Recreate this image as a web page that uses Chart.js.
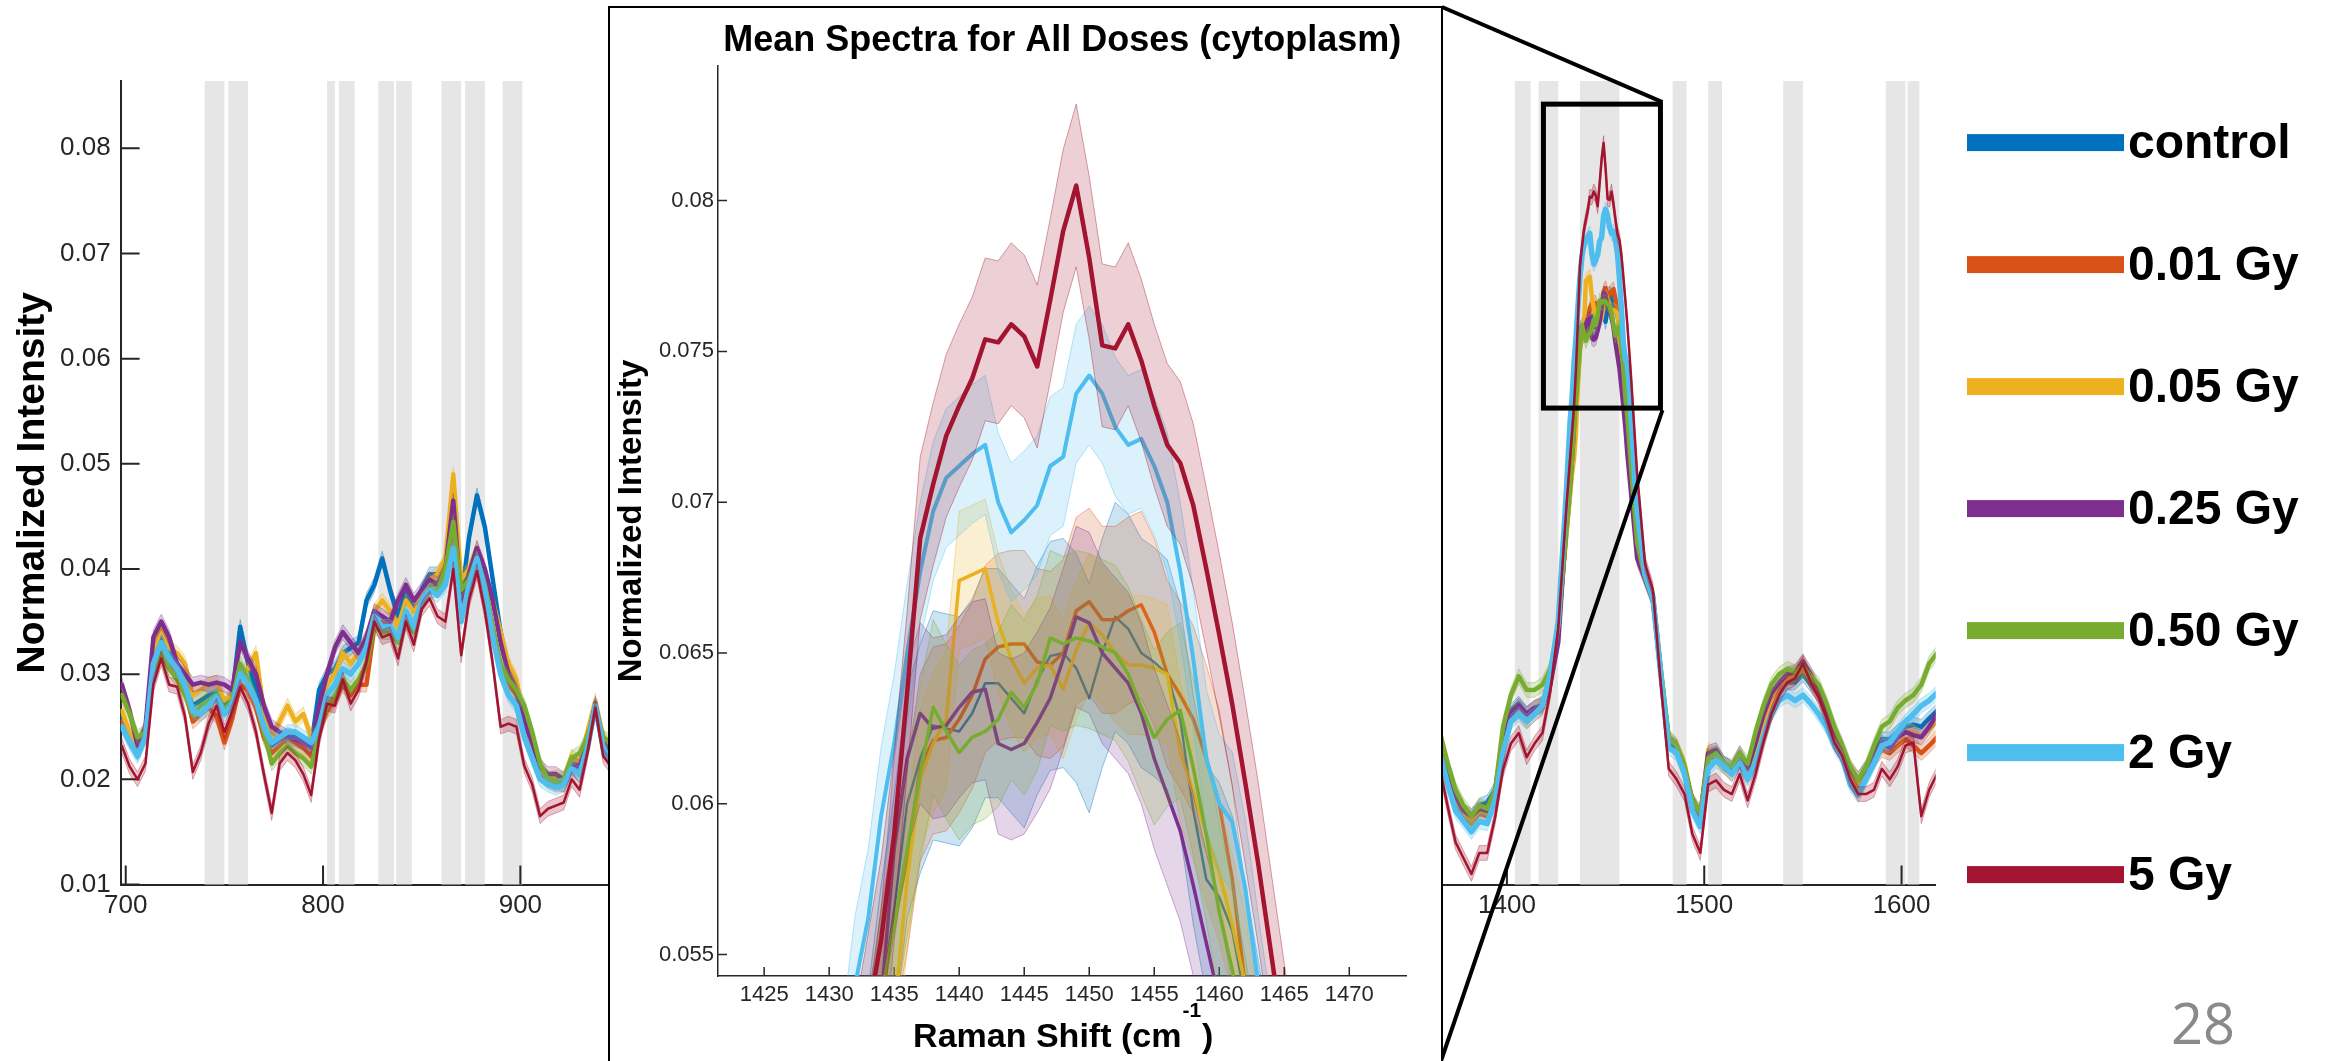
<!DOCTYPE html>
<html><head><meta charset="utf-8">
<script src="https://cdn.jsdelivr.net/npm/chart.js@4.4.1/dist/chart.umd.min.js"></script>
<style>
html,body{margin:0;padding:0;background:#fff;width:2329px;height:1061px;overflow:hidden;}
#main{position:absolute;left:0;top:0;width:2329px;height:1061px;}
#insetBox{position:absolute;left:608px;top:6px;width:831px;height:1070px;border:2px solid #000;background:#fff;}
#inset{position:absolute;left:0;top:0;width:831px;height:1060px;}
#page{position:absolute;left:2150px;top:994px;width:106px;text-align:center;font-family:'Open Sans',sans-serif;font-size:56px;line-height:56px;color:#8a8a8a;}
</style></head><body>
<canvas id="main" width="2329" height="1061"></canvas>
<div id="insetBox"><canvas id="inset" width="831" height="1060"></canvas></div>
<div id="page">28</div>
<script>
// ---------------- DATA ----------------
const seriesNames = ['control','0.01 Gy','0.05 Gy','0.25 Gy','0.50 Gy','2 Gy','5 Gy'];

// Raman shift grids (cm-1)
const leftShift = [698,702,706,710,714,718,722,726,730,734,738,742,746,750,754,758,762,766,770,774,778,782,786,790,794,798,802,806,810,814,818,822,826,830,834,838,842,846,850,854,858,862,866,870,874,878,882,886,890,894,898,902,906,910,914,918,922,926,930,934,938,942,946];
const gapShift = [1150];
const riseShift = [1366,1370,1374,1378,1382,1386,1390,1394,1398,1402,1406,1410,1414,1418,1422,1426];
const insetShift = [1430,1431,1432,1433,1434,1435,1436,1437,1438,1439,1440,1441,1442,1443,1444,1445,1446,1447,1448,1449,1450,1451,1452,1453,1454,1455,1456,1457,1458,1459,1460,1461,1462,1463,1464,1465,1466];
const fallShift = [1470,1474,1478,1482,1486,1490,1494,1498,1502,1506,1510,1514,1518,1522,1526,1530,1534,1538,1542,1546,1550,1554,1558,1562,1566,1570,1574,1578,1582,1586,1590,1594,1598,1602,1606,1610,1614,1618];

// Mean normalized intensity, 698-946 cm-1
const leftControl = [.0260,.0238,.0225,.0242,.0315,.0335,.0320,.0305,.0290,.0270,.0275,.0280,.0282,.0270,.0280,.0345,.0310,.0285,.0255,.0232,.0238,.0242,.0240,.0235,.0232,.0285,.0300,.0305,.0320,.0325,.0330,.0370,.0385,.0410,.0380,.0355,.0380,.0360,.0380,.0395,.0395,.0405,.0430,.0370,.0430,.0470,.0440,.0390,.0340,.0305,.0290,.0255,.0232,.0210,.0200,.0198,.0195,.0212,.0205,.0230,.0270,.0232,.0218];
const leftGy001 = [.0255,.0240,.0228,.0240,.0305,.0330,.0310,.0300,.0285,.0255,.0262,.0268,.0260,.0235,.0258,.0290,.0285,.0268,.0240,.0225,.0232,.0240,.0235,.0230,.0222,.0245,.0265,.0275,.0290,.0280,.0290,.0290,.0345,.0350,.0345,.0335,.0355,.0345,.0370,.0385,.0385,.0395,.0425,.0360,.0390,.0415,.0385,.0345,.0305,.0290,.0280,.0248,.0225,.0205,.0198,.0195,.0195,.0212,.0208,.0232,.0268,.0232,.0220];
const leftGy005 = [.0265,.0245,.0230,.0245,.0320,.0345,.0325,.0320,.0310,.0280,.0285,.0290,.0292,.0275,.0280,.0300,.0305,.0320,.0265,.0240,.0255,.0270,.0255,.0262,.0240,.0255,.0290,.0300,.0320,.0310,.0320,.0335,.0360,.0370,.0360,.0345,.0370,.0360,.0375,.0390,.0395,.0410,.0490,.0390,.0400,.0420,.0395,.0370,.0340,.0310,.0295,.0255,.0230,.0210,.0200,.0202,.0200,.0222,.0215,.0245,.0275,.0240,.0228];
const leftGy025 = [.0290,.0265,.0232,.0250,.0335,.0350,.0335,.0310,.0300,.0290,.0292,.0290,.0292,.0290,.0285,.0330,.0315,.0300,.0270,.0250,.0245,.0240,.0238,.0235,.0230,.0270,.0300,.0325,.0340,.0330,.0320,.0335,.0360,.0355,.0350,.0370,.0385,.0370,.0380,.0390,.0385,.0400,.0465,.0370,.0395,.0420,.0400,.0370,.0330,.0300,.0285,.0255,.0235,.0212,.0205,.0205,.0200,.0215,.0212,.0235,.0272,.0235,.0225];
const leftGy050 = [.0280,.0262,.0240,.0245,.0300,.0320,.0305,.0295,.0280,.0262,.0270,.0275,.0280,.0265,.0275,.0310,.0295,.0275,.0245,.0215,.0225,.0232,.0225,.0220,.0212,.0245,.0270,.0280,.0295,.0285,.0295,.0310,.0345,.0340,.0340,.0330,.0350,.0340,.0365,.0380,.0380,.0400,.0445,.0380,.0390,.0410,.0385,.0345,.0310,.0295,.0285,.0270,.0245,.0215,.0200,.0198,.0200,.0220,.0225,.0240,.0265,.0240,.0235];
const leftGy2 = [.0250,.0235,.0222,.0240,.0310,.0330,.0315,.0305,.0290,.0265,.0262,.0270,.0278,.0262,.0270,.0300,.0290,.0275,.0250,.0235,.0240,.0245,.0245,.0240,.0235,.0250,.0280,.0290,.0305,.0300,.0310,.0325,.0355,.0345,.0345,.0335,.0360,.0345,.0370,.0380,.0375,.0385,.0420,.0350,.0385,.0410,.0380,.0335,.0300,.0280,.0270,.0240,.0220,.0200,.0195,.0192,.0195,.0210,.0205,.0230,.0270,.0230,.0215];
const leftGy5 = [.0232,.0212,.0200,.0215,.0290,.0315,.0290,.0288,.0260,.0207,.0225,.0253,.0270,.0245,.0265,.0288,.0272,.0245,.0205,.0168,.0215,.0225,.0218,.0205,.0185,.0238,.0272,.0270,.0295,.0272,.0285,.0312,.0350,.0335,.0338,.0315,.0350,.0328,.0362,.0372,.0355,.0350,.0400,.0318,.0370,.0398,.0360,.0310,.0250,.0253,.0250,.0213,.0195,.0165,.0172,.0175,.0178,.0200,.0190,.0225,.0268,.0222,.0212];

// 1366-1426 cm-1
const riseControl = [.0232,.0205,.0182,.0170,.0162,.0175,.0178,.0190,.0238,.0265,.0272,.0262,.0268,.0272,.0298,.0345];
const riseGy001 = [.0240,.0205,.0180,.0165,.0158,.0168,.0165,.0182,.0230,.0258,.0265,.0255,.0262,.0268,.0295,.0342];
const riseGy005 = [.0232,.0210,.0182,.0168,.0160,.0170,.0168,.0185,.0235,.0262,.0268,.0258,.0268,.0272,.0298,.0345];
const riseGy025 = [.0230,.0205,.0185,.0170,.0165,.0172,.0170,.0185,.0232,.0262,.0270,.0262,.0268,.0270,.0290,.0330];
const riseGy050 = [.0245,.0215,.0190,.0175,.0165,.0175,.0172,.0190,.0250,.0280,.0298,.0285,.0285,.0290,.0305,.0345];
const riseGy2 = [.0225,.0195,.0170,.0160,.0150,.0160,.0158,.0180,.0225,.0255,.0262,.0255,.0262,.0270,.0300,.0350];
const riseGy5 = [.0210,.0174,.0140,.0125,.0110,.0130,.0130,.0164,.0209,.0234,.0244,.0221,.0234,.0244,.0284,.0343];

// 1430-1466 cm-1 (CH2 band, shown in the inset)
const insetControl = [.0432,.0452,.0475,.0500,.0535,.0565,.0600,.0615,.0626,.0625,.0624,.0630,.0640,.0640,.0635,.0630,.0641,.0649,.0650,.0645,.0635,.0650,.0662,.0658,.0650,.0647,.0643,.0628,.0598,.0575,.0569,.0558,.0535,.0510,.0485,.0460,.0438];
const insetGy001 = [.0435,.0455,.0475,.0500,.0535,.0560,.0582,.0612,.0621,.0622,.0628,.0636,.0648,.0652,.0653,.0653,.0647,.0646,.0650,.0664,.0667,.0661,.0661,.0664,.0666,.0657,.0643,.0636,.0628,.0615,.0600,.0575,.0540,.0510,.0485,.0460,.0438];
const insetGy005 = [.0430,.0450,.0470,.0490,.0505,.0530,.0575,.0608,.0620,.0628,.0674,.0676,.0678,.0660,.0648,.0640,.0645,.0646,.0638,.0651,.0660,.0656,.0650,.0646,.0646,.0645,.0643,.0617,.0604,.0590,.0577,.0560,.0540,.0510,.0485,.0460,.0438];
const insetGy025 = [.0440,.0460,.0480,.0505,.0535,.0585,.0615,.0630,.0625,.0626,.0632,.0637,.0638,.0620,.0618,.0620,.0627,.0635,.0648,.0662,.0660,.0650,.0645,.0640,.0630,.0615,.0603,.0591,.0573,.0554,.0535,.0510,.0490,.0470,.0450,.0430,.0410];
const insetGy050 = [.0435,.0455,.0478,.0505,.0535,.0560,.0585,.0610,.0632,.0624,.0617,.0622,.0624,.0628,.0637,.0632,.0640,.0655,.0653,.0655,.0654,.0652,.0650,.0643,.0632,.0622,.0628,.0631,.0612,.0590,.0564,.0545,.0520,.0495,.0470,.0448,.0425];
const insetGy2 = [.0470,.0505,.0540,.0562,.0596,.0620,.0650,.0677,.0697,.0708,.0712,.0716,.0719,.0700,.0690,.0694,.0699,.0712,.0715,.0736,.0742,.0736,.0725,.0719,.0721,.0712,.0700,.0677,.0648,.0615,.0600,.0594,.0572,.0540,.0510,.0480,.0455];
const insetGy5 = [.0455,.0480,.0505,.0530,.0555,.0590,.0637,.0688,.0706,.0722,.0732,.0741,.0754,.0753,.0759,.0755,.0745,.0767,.0790,.0805,.0781,.0752,.0751,.0759,.0747,.0732,.0719,.0713,.0699,.0678,.0656,.0633,.0607,.0580,.0550,.0520,.0490];

// 1470-1618 cm-1
const fallControl = [.0398,.0375,.0302,.0238,.0230,.0212,.0178,.0165,.0222,.0225,.0215,.0210,.0222,.0205,.0228,.0255,.0275,.0285,.0292,.0292,.0300,.0290,.0280,.0262,.0240,.0228,.0208,.0195,.0210,.0225,.0238,.0238,.0245,.0250,.0252,.0250,.0258,.0265];
const fallGy001 = [.0395,.0372,.0300,.0235,.0228,.0210,.0178,.0162,.0220,.0222,.0212,.0205,.0218,.0202,.0225,.0252,.0272,.0288,.0298,.0300,.0312,.0295,.0280,.0260,.0240,.0225,.0205,.0192,.0205,.0218,.0228,.0225,.0232,.0238,.0232,.0225,.0232,.0240];
const fallGy005 = [.0395,.0372,.0302,.0240,.0232,.0215,.0180,.0165,.0228,.0222,.0212,.0208,.0220,.0205,.0228,.0255,.0275,.0288,.0295,.0298,.0305,.0295,.0282,.0262,.0240,.0225,.0205,.0195,.0205,.0220,.0232,.0232,.0238,.0245,.0245,.0240,.0248,.0255];
const fallGy025 = [.0390,.0370,.0300,.0235,.0230,.0210,.0180,.0165,.0225,.0228,.0215,.0210,.0225,.0210,.0235,.0262,.0282,.0292,.0300,.0302,.0312,.0300,.0285,.0265,.0245,.0230,.0210,.0200,.0210,.0225,.0235,.0230,.0240,.0245,.0242,.0240,.0250,.0262];
const fallGy050 = [.0392,.0372,.0305,.0240,.0232,.0212,.0180,.0168,.0220,.0225,.0215,.0212,.0225,.0215,.0245,.0270,.0290,.0300,.0305,.0302,.0308,.0298,.0290,.0272,.0250,.0232,.0212,.0200,.0212,.0232,.0250,.0255,.0268,.0275,.0280,.0290,.0310,.0320];
const fallGy2 = [.0395,.0372,.0300,.0230,.0225,.0205,.0170,.0155,.0210,.0218,.0212,.0205,.0215,.0200,.0215,.0240,.0262,.0275,.0280,.0275,.0280,.0272,.0262,.0250,.0232,.0220,.0195,.0185,.0200,.0215,.0232,.0235,.0245,.0255,.0262,.0270,.0275,.0282];
const fallGy5 = [.0405,.0380,.0290,.0210,.0200,.0186,.0148,.0130,.0195,.0199,.0190,.0186,.0205,.0180,.0205,.0235,.0262,.0280,.0292,.0296,.0310,.0292,.0278,.0258,.0235,.0222,.0200,.0186,.0186,.0190,.0210,.0200,.0212,.0232,.0235,.0165,.0190,.0205];

// Standard-deviation half widths of the shaded bands
const mainSpread = [0.0007,0.0007,0.0007,0.0007,0.0007,0.0007,0.0007];
const insetSpread = [0.0038,0.0031,0.0023,0.0030,0.0029,0.0023,0.0027];

// Highlighted (gray) Raman bands, cm-1
const bandStart = [740,752,802,808,828,837,860,872,891,1404,1416,1437,1484,1502,1540,1592,1603];
const bandEnd   = [750,762,806,816,836,845,870,882,901,1412,1426,1457,1491,1509,1550,1602,1609];

// Zoom rectangle on the main plot (shift range, intensity range)
const zoomBoxShift = [1418.5, 1477.8];
const zoomBoxIntensity = [0.0553, 0.0842];

// Ticks
const mainXTicks = [700,800,900,1000,1100,1200,1300,1400,1500,1600];
const mainXTickLabels = ['700','800','900','1000','1100','1200','1300','1400','1500','1600'];
const mainYTicks = [0.01,0.02,0.03,0.04,0.05,0.06,0.07,0.08];
const mainYTickLabels = ['0.01','0.02','0.03','0.04','0.05','0.06','0.07','0.08'];
const insetXTicks = [1425,1430,1435,1440,1445,1450,1455,1460,1465,1470];
const insetXTickLabels = ['1425','1430','1435','1440','1445','1450','1455','1460','1465','1470'];
const insetYTicks = [0.055,0.06,0.065,0.07,0.075,0.08];
const insetYTickLabels = ['0.055','0.06','0.065','0.07','0.075','0.08'];

// ---------------- STYLE ----------------
const seriesColors = ['#0072BD','#D95319','#EDB120','#7E2F8E','#77AC30','#4DBEEE','#A2142F'];
const FONT = "'Liberation Sans', Arial, sans-serif";
Chart.defaults.font.family = FONT;
Chart.defaults.color = '#262626';

function rgba(hex, a){
  const n = parseInt(hex.slice(1),16);
  return 'rgba(' + ((n>>16)&255) + ',' + ((n>>8)&255) + ',' + (n&255) + ',' + a + ')';
}

function makeSets(xs, ysList, spreads, widths, fillA, edgeA){
  const sets = [];
  let seq = 0;
  ysList.forEach((ys, k) => {
    const col = seriesColors[k];
    const base = sets.length;
    const common = {pointRadius:0, tension:0, spanGaps:false, borderJoinStyle:'round', borderCapStyle:'round'};
    sets.push(Object.assign({label: seriesNames[k] + ' +sd', data: xs.map((x,i)=>({x, y: ys[i]==null?null:ys[i]+spreads[k]})),
      borderColor: rgba(col, edgeA), borderWidth: 1, backgroundColor: rgba(col, fillA), fill: base+1, order: 1000-(seq++)}, common));
    sets.push(Object.assign({label: seriesNames[k] + ' -sd', data: xs.map((x,i)=>({x, y: ys[i]==null?null:ys[i]-spreads[k]})),
      borderColor: rgba(col, edgeA), borderWidth: 1, fill: false, order: 1000-(seq++)}, common));
    sets.push(Object.assign({label: seriesNames[k], data: xs.map((x,i)=>({x, y: ys[i]})),
      borderColor: col, borderWidth: widths[k], fill: false, order: 1000-(seq++)}, common));
  });
  return sets;
}

const inwardTicks = {
  id: 'inwardTicks',
  beforeDatasetsDraw(chart, args, o){
    const {ctx, chartArea:{left,right,bottom,top}} = chart;
    const xs = chart.scales.x, ys = chart.scales.y;
    ctx.save();
    if (o.bands){
      ctx.fillStyle = '#e6e6e6';
      o.bands[0].forEach((s,i)=>{
        const a = xs.getPixelForValue(s), b = xs.getPixelForValue(o.bands[1][i]);
        ctx.fillRect(a, top, b-a, bottom-top);
      });
    }
    ctx.strokeStyle = '#262626'; ctx.lineWidth = o.width;
    ctx.beginPath();
    o.xTicks.forEach(v=>{ const p = xs.getPixelForValue(v); if(p<left||p>right) return; ctx.moveTo(p,bottom); ctx.lineTo(p,bottom-o.len); });
    o.yTicks.forEach(v=>{ const p = ys.getPixelForValue(v); if(p<top||p>bottom) return; ctx.moveTo(left,p); ctx.lineTo(left+o.len,p); });
    ctx.stroke();
    ctx.restore();
  }
};

const mainOverlay = {
  id: 'mainOverlay',
  afterDraw(chart){
    const {ctx} = chart;
    const xs = chart.scales.x, ys = chart.scales.y;
    const x0 = xs.getPixelForValue(zoomBoxShift[0]), x1 = xs.getPixelForValue(zoomBoxShift[1]);
    const y0 = ys.getPixelForValue(zoomBoxIntensity[1]), y1 = ys.getPixelForValue(zoomBoxIntensity[0]);
    ctx.save();
    ctx.strokeStyle = '#000'; ctx.lineWidth = 5; ctx.lineJoin = 'miter';
    ctx.strokeRect(x0, y0, x1-x0, y1-y0);
    const box = document.getElementById('insetBox').getBoundingClientRect();
    ctx.lineWidth = 4; ctx.lineCap = 'butt';
    ctx.beginPath();
    ctx.moveTo(x1+2, y0-2); ctx.lineTo(box.right-1, box.top+1);
    ctx.moveTo(x1+2, y1+2); ctx.lineTo(box.right-2, chart.height);
    ctx.stroke();
    // legend
    ctx.textAlign = 'left'; ctx.textBaseline = 'alphabetic';
    ctx.font = 'bold 48px ' + FONT;
    seriesNames.forEach((name,k)=>{
      const y = 142.6 + k*122;
      ctx.fillStyle = seriesColors[k];
      ctx.fillRect(1967, y-8.5, 157, 17);
      ctx.fillStyle = '#000';
      ctx.fillText(name, 2128, y+15);
    });
    ctx.restore();
  }
};

const insetText = {
  id: 'insetText',
  afterDraw(chart){
    const {ctx, chartArea} = chart;
    const cx = (chartArea.left + chartArea.right)/2;
    ctx.save();
    ctx.fillStyle = '#000';
    ctx.textBaseline = 'alphabetic';
    ctx.textAlign = 'center';
    ctx.font = 'bold 36px ' + FONT;
    ctx.fillText('Mean Spectra for All Doses (cytoplasm)', cx, chartArea.top - 15);
    const t1 = 'Raman Shift (cm', t2 = '-1', t3 = ')';
    ctx.font = 'bold 34px ' + FONT; const w1 = ctx.measureText(t1).width, w3 = ctx.measureText(t3).width;
    ctx.font = 'bold 21px ' + FONT; const w2 = ctx.measureText(t2).width;
    let x = cx - (w1+w2+w3)/2; const by = chartArea.bottom + 71;
    ctx.textAlign = 'left';
    ctx.font = 'bold 34px ' + FONT; ctx.fillText(t1, x, by); x += w1 + 1;
    ctx.font = 'bold 21px ' + FONT; ctx.fillText(t2, x, by - 30); x += w2 + 1;
    ctx.font = 'bold 34px ' + FONT; ctx.fillText(t3, x, by);
    ctx.restore();
  }
};

// ---------------- MAIN CHART ----------------
const mainX = [].concat(leftShift, gapShift, riseShift, insetShift, fallShift);
const mainSeries = [
  [].concat(leftControl,[null],riseControl,insetControl,fallControl),
  [].concat(leftGy001,[null],riseGy001,insetGy001,fallGy001),
  [].concat(leftGy005,[null],riseGy005,insetGy005,fallGy005),
  [].concat(leftGy025,[null],riseGy025,insetGy025,fallGy025),
  [].concat(leftGy050,[null],riseGy050,insetGy050,fallGy050),
  [].concat(leftGy2,[null],riseGy2,insetGy2,fallGy2),
  [].concat(leftGy5,[null],riseGy5,insetGy5,fallGy5)
];

new Chart(document.getElementById('main'), {
  type: 'line',
  data: { datasets: makeSets(mainX, mainSeries, mainSpread, [4.5,4.5,4.5,4.5,4.5,5.5,2.5], 0.25, 0.35) },
  options: {
    responsive:false, animation:false, events:[], devicePixelRatio:1,
    layout:{padding:{left:0, top:81, right:393.3, bottom:0}},
    plugins:{legend:{display:false}, tooltip:{enabled:false},
      inwardTicks:{xTicks: mainXTicks, yTicks: mainYTicks, len:19, width:2, bands:[bandStart, bandEnd]}},
    scales:{
      x:{type:'linear', min:697.4, max:1617.3,
        afterFit(s){ s.height = 176.5; },
        afterBuildTicks(s){ s.ticks = mainXTicks.map(v=>({value:v})); },
        grid:{display:false, drawTicks:false},
        border:{display:true, color:'#262626', width:2},
        ticks:{autoSkip:false, maxRotation:0, padding:6, font:{size:26}, color:'#262626', callback:(v,i)=>mainXTickLabels[i]}},
      y:{type:'linear', min:0.01, max:0.0864,
        afterFit(s){ s.width = 120.6; },
        afterBuildTicks(s){ s.ticks = mainYTicks.map(v=>({value:v})); },
        grid:{display:false, drawTicks:false},
        border:{display:true, color:'#262626', width:2},
        ticks:{padding:10, font:{size:26}, color:'#262626', callback:(v,i)=>mainYTickLabels[i]},
        title:{display:true, text:'Normalized Intensity', color:'#000', font:{size:39, weight:'bold'}, padding:{top:10,bottom:0}}}
    }
  },
  plugins:[inwardTicks, mainOverlay]
});

// ---------------- INSET CHART ----------------
const insetSeries = [insetControl, insetGy001, insetGy005, insetGy025, insetGy050, insetGy2, insetGy5];
new Chart(document.getElementById('inset'), {
  type: 'line',
  data: { datasets: makeSets(insetShift, insetSeries, insetSpread, [2.5,3.5,3.5,3.5,3.5,4,4.5], 0.2, 0.4) },
  options: {
    responsive:false, animation:false, events:[], devicePixelRatio:1,
    layout:{padding:{left:0, top:57.8, right:34.5, bottom:0}},
    plugins:{legend:{display:false}, tooltip:{enabled:false},
      inwardTicks:{xTicks: insetXTicks, yTicks: insetYTicks, len:9, width:1.5}},
    scales:{
      x:{type:'linear', min:1421.45, max:1474.4,
        afterFit(s){ s.height = 92; },
        afterBuildTicks(s){ s.ticks = insetXTicks.map(v=>({value:v})); },
        grid:{display:false, drawTicks:false},
        border:{display:true, color:'#262626', width:1.5},
        ticks:{autoSkip:false, maxRotation:0, padding:6, font:{size:22}, color:'#262626', callback:(v,i)=>insetXTickLabels[i]}},
      y:{type:'linear', min:0.05429, max:0.08447,
        afterFit(s){ s.width = 108; },
        afterBuildTicks(s){ s.ticks = insetYTicks.map(v=>({value:v})); },
        grid:{display:false, drawTicks:false},
        border:{display:true, color:'#262626', width:1.5},
        ticks:{padding:4, font:{size:22}, color:'#262626', callback:(v,i)=>insetYTickLabels[i]},
        title:{display:true, text:'Normalized Intensity', color:'#000', font:{size:33, weight:'bold'}, padding:{top:2,bottom:0}}}
    }
  },
  plugins:[inwardTicks, insetText]
});
</script>
</body></html>
